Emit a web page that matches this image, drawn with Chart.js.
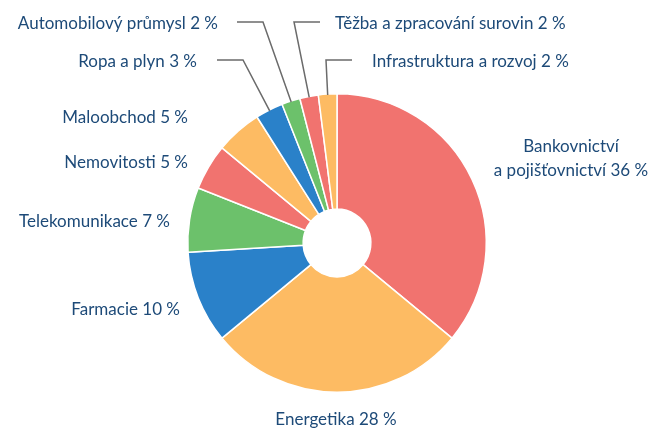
<!DOCTYPE html>
<html>
<head>
<meta charset="utf-8">
<script src="https://cdn.jsdelivr.net/npm/chart.js@4"></script>
<style>
    html, body { margin: 0; padding: 0; background: #fff; }
    canvas { display: block; }
</style>
</head>
<body>
<canvas id="chart" width="653" height="428"></canvas>
<script>
const categories = [
    ['Bankovnictví', 'a pojišťovnictví'],
    'Energetika',
    'Farmacie',
    'Telekomunikace',
    'Nemovitosti',
    'Maloobchod',
    'Ropa a plyn',
    'Automobilový průmysl',
    'Těžba a zpracování surovin',
    'Infrastruktura a rozvoj'
];
const shares = [36, 28, 10, 7, 5, 5, 3, 2, 2, 2];
const sliceColors = ['#f1736f', '#fdbb63', '#2a81c9', '#6cc16b', '#f1736f', '#fdbb63', '#2a81c9', '#6cc16b', '#f1736f', '#fdbb63'];

const textColor = '#1d4a78';

// label placement, relative to the pie centre
const labelLayout = [
    { dx: 234, dy: -84, align: 'center' },
    { dx: -1, dy: 177, align: 'center' },
    { dx: -157, dy: 67, align: 'right' },
    { dx: -167, dy: -21, align: 'right' },
    { dx: -149, dy: -80, align: 'right' },
    { dx: -149, dy: -125, align: 'right' },
    { dx: -140, dy: -181, align: 'right', elbow: [-94, -183], end: [-120, -183] },
    { dx: -119, dy: -219, align: 'right', elbow: [-74, -221], end: [-100, -221] },
    { dx: -2, dy: -219, align: 'left', elbow: [-43, -221], end: [-17, -221] },
    { dx: 35, dy: -181, align: 'left', elbow: [-11, -183], end: [15, -183] }
];

const sliceLabels = {
    id: 'sliceLabels',
    afterDatasetsDraw(chart) {
        const ctx = chart.ctx;
        const meta = chart.getDatasetMeta(0);
        ctx.save();
        ctx.font = '17px Lato, "Open Sans", sans-serif';
        ctx.fillStyle = textColor;
        ctx.textBaseline = 'middle';
        meta.data.forEach((arc, i) => {
            const p = arc.getProps(['x', 'y', 'startAngle', 'endAngle', 'outerRadius'], true);
            const lay = labelLayout[i];
            if (lay.elbow) {
                const mid = (p.startAngle + p.endAngle) / 2;
                ctx.strokeStyle = '#6b6b6b';
                ctx.lineWidth = 1.5;
                ctx.beginPath();
                ctx.moveTo(p.x + Math.cos(mid) * (p.outerRadius - 1), p.y + Math.sin(mid) * (p.outerRadius - 1));
                ctx.lineTo(p.x + lay.elbow[0], p.y + lay.elbow[1]);
                ctx.lineTo(p.x + lay.end[0], p.y + lay.end[1]);
                ctx.stroke();
            }
            const value = shares[i] + ' %';
            const name = categories[i];
            ctx.textAlign = lay.align;
            if (Array.isArray(name)) {
                ctx.fillText(name[0], p.x + lay.dx, p.y + lay.dy - 12);
                ctx.fillText(name[1] + ' ' + value, p.x + lay.dx, p.y + lay.dy + 12);
            } else {
                ctx.fillText(name + ' ' + value, p.x + lay.dx, p.y + lay.dy);
            }
        });
        ctx.restore();
    }
};

new Chart(document.getElementById('chart'), {
    type: 'doughnut',
    data: {
        labels: categories,
        datasets: [{
            data: shares,
            backgroundColor: sliceColors,
            borderColor: '#ffffff',
            borderWidth: 1.5
        }]
    },
    options: {
        responsive: false,
        animation: false,
        cutout: '22.7%',
        layout: {
            padding: { top: 93, bottom: 35, left: 187, right: 166 }
        },
        plugins: {
            legend: { display: false },
            tooltip: { enabled: false }
        }
    },
    plugins: [sliceLabels]
});
</script>
</body>
</html>
